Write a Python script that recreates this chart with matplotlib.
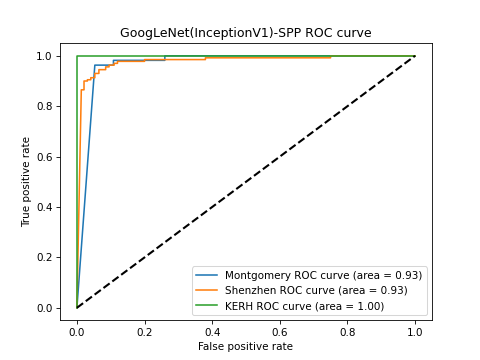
import matplotlib
matplotlib.use("Agg")
import matplotlib.pyplot as plt

# ROC points
mont_fpr = [0.0, 0.053, 0.108, 0.108, 0.26, 0.26, 1.0]
mont_tpr = [0.0, 0.963, 0.963, 0.982, 0.982, 1.0, 1.0]

shen_fpr = [0.0, 0.013, 0.013, 0.021, 0.021, 0.031, 0.031, 0.041, 0.041, 0.053,
            0.053, 0.065, 0.065, 0.085, 0.085, 0.095, 0.095, 0.11, 0.11, 0.12,
            0.12, 0.20, 0.20, 0.38, 0.38, 0.75, 0.75, 1.0]
shen_tpr = [0.0, 0.865, 0.865, 0.865, 0.90, 0.90, 0.905, 0.905, 0.913, 0.913,
            0.93, 0.93, 0.945, 0.945, 0.956, 0.956, 0.963, 0.963, 0.97, 0.97,
            0.978, 0.978, 0.985, 0.985, 0.992, 0.992, 1.0, 1.0]

kerh_fpr = [0.0, 0.0, 1.0]
kerh_tpr = [0.0, 1.0, 1.0]

plt.figure(figsize=(6.4, 4.8), dpi=75)
plt.plot(mont_fpr, mont_tpr, label="Montgomery ROC curve (area = 0.93)")
plt.plot(shen_fpr, shen_tpr, label="Shenzhen ROC curve (area = 0.93)")
plt.plot(kerh_fpr, kerh_tpr, label="KERH ROC curve (area = 1.00)")
plt.plot([0, 1], [0, 1], "k--", lw=2)
plt.xlabel("False positive rate")
plt.ylabel("True positive rate")
plt.title("GoogLeNet(InceptionV1)-SPP ROC curve")
plt.legend(loc="lower right")
plt.savefig("out.png", dpi=75)
